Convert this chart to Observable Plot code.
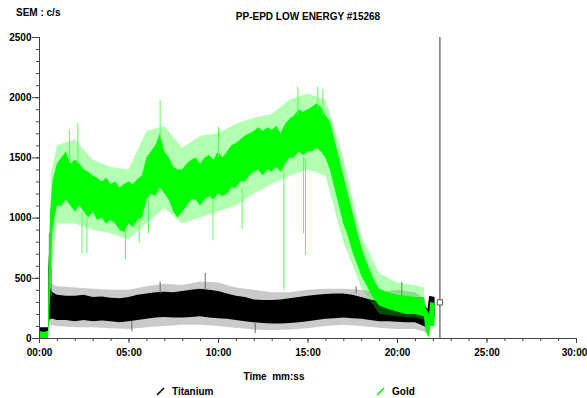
<!DOCTYPE html>
<html>
<head>
<meta charset="utf-8">
<script src="https://cdn.jsdelivr.net/npm/d3@7"></script>
<script src="https://cdn.jsdelivr.net/npm/@observablehq/plot@0.6"></script>
<style>
  html, body { margin: 0; padding: 0; background: #fff; }
  #chart svg { display: block; }
</style>
</head>
<body>
<div id="chart"></div>
<script>
// ---- data (time in minutes, counts in c/s) ----
const title = "PP-EPD LOW ENERGY #15268";
const yTitle = "SEM : c/s";
const xTitle = "Time  mm:ss";
const seriesNames = ["Titanium", "Gold"];
const seriesColors = ["#000000", "#00ff00"];
const yTicks = [0, 500, 1000, 1500, 2000, 2500];
const xTicks = [0, 5, 10, 15, 20, 25, 30];
const cursorTime = 22.37;
const cursorValue = 300;

// Gold dense band (lower / upper edge)
const goldT  = [0, 0.25, 0.5, 0.52, 0.62, 0.75, 1.0, 1.25, 1.5, 1.75, 2.0, 2.25, 2.5, 2.75, 3.0, 3.25, 3.5, 3.75, 4.0, 4.25, 4.5, 4.75, 5.0, 5.25, 5.5, 5.75, 6.0, 6.25, 6.5, 6.75, 7.0, 7.25, 7.5, 7.75, 8.0, 8.25, 8.5, 8.75, 9.0, 9.25, 9.5, 9.75, 10.0, 10.25, 10.5, 10.75, 11.0, 11.25, 11.5, 11.75, 12.0, 12.25, 12.5, 12.75, 13.0, 13.25, 13.5, 13.75, 14.0, 14.25, 14.5, 14.75, 15.0, 15.25, 15.5, 15.75, 16.0, 16.25, 16.5, 16.75, 17.0, 17.25, 17.5, 17.75, 18.0, 18.25, 18.5, 18.75, 19.0, 19.5, 20.0, 20.5, 21.0, 21.5, 21.6, 21.8, 21.85, 22.1];
const goldLo = [0, 0, 0, 20, 350, 900, 1100, 1100, 1150, 1100, 1050, 1100, 1050, 1000, 1050, 980, 1000, 950, 980, 950, 900, 880, 950, 920, 980, 1000, 1150, 1200, 1180, 1250, 1200, 1150, 1050, 1000, 1050, 1100, 1150, 1150, 1100, 1150, 1180, 1150, 1200, 1180, 1200, 1250, 1250, 1300, 1300, 1350, 1380, 1400, 1350, 1400, 1380, 1420, 1380, 1450, 1500, 1500, 1550, 1520, 1550, 1550, 1580, 1550, 1500, 1400, 1250, 1100, 950, 850, 720, 620, 520, 450, 380, 320, 270, 240, 220, 200, 200, 180, 50, 0, 100, 100];
const goldHi = [60, 50, 60, 500, 1050, 1300, 1450, 1500, 1550, 1450, 1480, 1450, 1400, 1380, 1350, 1330, 1300, 1330, 1280, 1300, 1250, 1280, 1300, 1280, 1320, 1350, 1500, 1550, 1600, 1700, 1550, 1500, 1420, 1400, 1400, 1450, 1480, 1500, 1450, 1500, 1520, 1480, 1550, 1500, 1550, 1600, 1620, 1650, 1680, 1700, 1720, 1750, 1720, 1750, 1730, 1760, 1700, 1780, 1820, 1850, 1900, 1880, 1900, 1920, 1950, 1920, 1850, 1800, 1650, 1500, 1350, 1200, 1050, 900, 760, 650, 560, 470, 410, 380, 360, 350, 340, 340, 250, 200, 300, 290];

// Gold sparse outer spikes envelope
const goldOT  = [0.65, 1, 2, 3, 4, 5, 6, 7, 8, 9, 10, 11, 12, 13, 14, 15, 16, 17, 18, 19, 20, 21, 21.5];
const goldOLo = [500, 950, 950, 900, 870, 820, 950, 1080, 950, 1000, 1050, 1100, 1200, 1280, 1350, 1400, 1350, 800, 420, 200, 180, 170, 150];
const goldOHi = [1350, 1600, 1650, 1480, 1420, 1400, 1720, 1760, 1580, 1680, 1700, 1780, 1830, 1860, 1980, 2030, 1980, 1500, 850, 540, 460, 440, 420];

// Gold individual spikes
const goldSpikeT    = [1.68, 2.14, 2.37, 2.65, 4.8, 5.57, 6.09, 6.74, 9.69, 10.0, 11.32, 13.65, 14.43, 14.75, 14.86, 15.55, 15.83];
const goldSpikeFrom = [1450, 1450, 1050, 1000, 900, 980, 1150, 1650, 1150, 1500, 1250, 1380, 1850, 1500, 1500, 1900, 1850];
const goldSpikeTo   = [1730, 1785, 705, 705, 650, 790, 870, 1977, 815, 1755, 900, 400, 2087, 870, 690, 2087, 2070];

// Titanium dense band
const titT  = [0, 0.5, 0.52, 0.6, 0.75, 1, 1.5, 2, 2.5, 3, 3.5, 4, 4.5, 5, 5.5, 6, 6.5, 7, 7.5, 8, 8.5, 9, 9.5, 10, 10.5, 11, 11.5, 12, 12.5, 13, 13.5, 14, 14.5, 15, 15.5, 16, 16.5, 17, 17.5, 18, 18.5, 19, 19.5, 20, 20.5, 21, 21.5, 21.7, 21.8, 22.1];
const titLo = [50, 50, 100, 160, 160, 150, 150, 140, 150, 140, 145, 140, 130, 140, 150, 160, 170, 175, 170, 170, 175, 180, 170, 165, 160, 150, 140, 130, 125, 120, 120, 125, 130, 140, 150, 160, 165, 170, 165, 160, 150, 140, 140, 135, 130, 130, 100, 80, 170, 170];
const titHi = [90, 90, 700, 420, 380, 360, 350, 350, 360, 340, 345, 335, 330, 340, 360, 370, 380, 385, 380, 390, 400, 410, 400, 390, 370, 350, 340, 320, 315, 315, 320, 330, 340, 350, 360, 365, 370, 370, 360, 340, 320, 310, 300, 300, 300, 300, 280, 240, 350, 340];

// Titanium sparse outer envelope
const titOT  = [0.6, 1, 2, 3, 4, 5, 6, 7, 8, 9, 10, 11, 12, 13, 14, 15, 16, 17, 18, 19, 20, 21, 21.6];
const titOLo = [110, 100, 90, 90, 80, 75, 90, 100, 110, 110, 100, 85, 70, 65, 70, 80, 100, 110, 100, 85, 75, 75, 50];
const titOHi = [460, 430, 420, 410, 400, 400, 430, 450, 440, 470, 460, 420, 400, 380, 380, 400, 410, 410, 400, 380, 400, 380, 320];

// Titanium individual spikes
const titSpikeT    = [0.55, 0.65, 6.74, 9.26, 17.69, 20.24, 12.05, 5.16];
const titSpikeFrom = [300, 350, 370, 400, 370, 300, 130, 140];
const titSpikeTo   = [870, 590, 468, 540, 430, 468, 40, 55];

// ---- build tables ----
const band = (T, L, H) => T.map((t, i) => ({t, lo: L[i], hi: H[i]}));
const spikes = (T, F, V) => T.map((t, i) => ({t, from: F[i], to: V[i]}));
const goldBand = band(goldT, goldLo, goldHi);
const goldOuter = band(goldOT, goldOLo, goldOHi);
const goldSp = spikes(goldSpikeT, goldSpikeFrom, goldSpikeTo);
const titBand = band(titT, titLo, titHi);
const titOuter = band(titOT, titOLo, titOHi);
const titSp = spikes(titSpikeT, titSpikeFrom, titSpikeTo);

const fmt = d => String(d).padStart(2, "0") + ":00";
const font = "'Liberation Sans', Arial, sans-serif";

const plot = Plot.plot({
  width: 587,
  height: 398,
  marginLeft: 39,
  marginRight: 11,
  marginTop: 37,
  marginBottom: 60,
  style: {fontFamily: font, fontSize: "10px", fontWeight: "bold", color: "#000", background: "#fff"},
  x: {domain: [0, 30]},
  y: {domain: [0, 2500]},
  marks: [
    // titanium
    Plot.areaY(titOuter, {x: "t", y1: "lo", y2: "hi", fill: "#8a8a8a", fillOpacity: 0.45}),
    Plot.areaY(titBand, {x: "t", y1: "lo", y2: "hi", fill: seriesColors[0]}),
    Plot.ruleX(titSp, {x: "t", y1: "from", y2: "to", stroke: "#666", strokeWidth: 1}),
    // gold
    Plot.areaY(goldOuter, {x: "t", y1: "lo", y2: "hi", fill: "#00ff00", fillOpacity: 0.3}),
    Plot.areaY(goldBand, {x: "t", y1: "lo", y2: "hi", fill: seriesColors[1]}),
    Plot.ruleX(goldSp, {x: "t", y1: "from", y2: "to", stroke: "#5cff5c", strokeWidth: 1}),
    // cursor
    Plot.ruleX([cursorTime], {y1: 0, y2: 2500, stroke: "#555", strokeWidth: 1.2}),
    Plot.dot([{t: cursorTime, v: cursorValue}], {x: "t", y: "v", symbol: "square", r: 3, stroke: "#555", fill: "#fff", strokeWidth: 1}),
    // axes
    Plot.ruleX([0], {y1: 0, y2: 2500, stroke: "#444"}),
    Plot.ruleY([0], {x1: 0, x2: 30, stroke: "#444"}),
    Plot.axisY({ticks: d3.range(0, 2501, 100), tickSize: 3, text: null, label: null, stroke: "#444"}),
    Plot.axisY({ticks: yTicks, tickSize: 7, tickPadding: 1, tickFormat: d => String(d), label: null, stroke: "#444", fill: "#000"}),
    Plot.axisX({ticks: d3.range(0, 31, 1), tickSize: 3, text: null, label: null, stroke: "#444"}),
    Plot.axisX({ticks: xTicks, tickSize: 5, tickPadding: 5, tickFormat: d => d === 30 ? "" : fmt(d), label: null, stroke: "#444", fill: "#000"}),
    Plot.text([30], {x: d => d, frameAnchor: "bottom", dy: 10, dx: -2, lineAnchor: "top", text: d => fmt(d), fill: "#000", fontWeight: "bold"})
  ]
});

const svg = d3.select(plot);
const addText = (x, y, txt, anchor) => svg.append("text")
  .attr("x", x).attr("y", y).attr("text-anchor", anchor || "start")
  .attr("font-family", font)
  .attr("font-size", 10).attr("font-weight", "bold").attr("fill", "#000").text(txt);

addText(16, 16, yTitle);
addText(308, 20, title, "middle");
addText(274, 380, xTitle, "middle");
// legend
const legendX = [157, 377];
seriesNames.forEach((name, i) => {
  svg.append("line").attr("x1", legendX[i]).attr("y1", 395).attr("x2", legendX[i] + 7).attr("y2", 388)
    .attr("stroke", seriesColors[i]).attr("stroke-width", 1.6);
  addText(legendX[i] + 15, 395, name);
});

document.getElementById("chart").appendChild(plot);
</script>
</body>
</html>
